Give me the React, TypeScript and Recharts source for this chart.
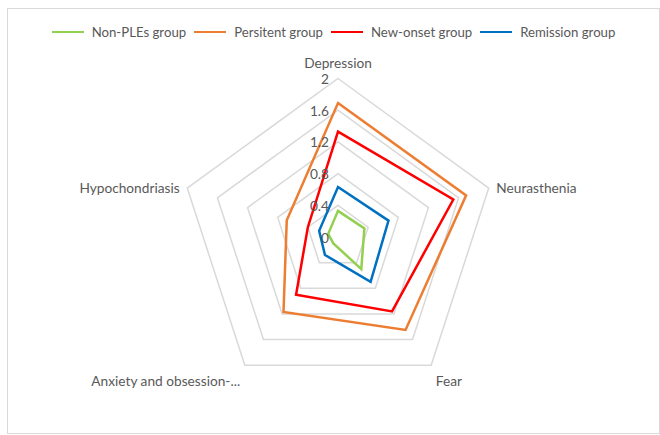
import React from 'react';
import { RadarChart, Radar, PolarGrid, PolarAngleAxis, PolarRadiusAxis, Legend } from 'recharts';

// dimensions of the symptom scale
const categories = ['Depression', 'Neurasthenia', 'Fear', 'Anxiety and obsession-...', 'Hypochondriasis'];

// mean scores per group, same order as categories
const nonPLEs = [0.33, 0.35, 0.5, 0.1, 0.13];
const persistent = [1.69, 1.7, 1.45, 1.17, 0.68];
const newOnset = [1.33, 1.53, 1.16, 0.9, 0.4];
const remission = [0.63, 0.67, 0.7, 0.28, 0.25];

const radiusTicks = [0, 0.4, 0.8, 1.2, 1.6, 2];

const series = [
  { key: 'nonPLEs', name: 'Non-PLEs group', color: '#92D050' },
  { key: 'persistent', name: 'Persitent group', color: '#ED7D31' },
  { key: 'newOnset', name: 'New-onset group', color: '#FF0000' },
  { key: 'remission', name: 'Remission group', color: '#0070C0' },
];

const data = categories.map((c, i) => ({
  category: c,
  nonPLEs: nonPLEs[i],
  persistent: persistent[i],
  newOnset: newOnset[i],
  remission: remission[i],
}));

const FONT = 'Lato, "Noto Sans", sans-serif';
const TEXT = '#595959';

const AngleTick = (props: any) => {
  const { x, y, textAnchor, payload } = props;
  const s = Math.sin((payload.coordinate * Math.PI) / 180);
  const dy = textAnchor === 'middle' ? -8 : s < 0 ? 9 : 2;
  return (
    <text x={x} y={y + dy} textAnchor={textAnchor} dominantBaseline="central" fill={TEXT} fontSize={13.7} fontFamily={FONT}>
      {payload.value}
    </text>
  );
};

const RadiusTick = (props: any) => {
  const { x, y, payload } = props;
  return (
    <text x={x - 9} y={y} textAnchor="end" dominantBaseline="central" fill={TEXT} fontSize={13.7} fontFamily={FONT}>
      {payload.value}
    </text>
  );
};

const LegendContent = () => (
  <div style={{ display: 'flex', justifyContent: 'center', alignItems: 'center', height: 20, fontFamily: FONT, fontSize: 13.2, color: TEXT, paddingLeft: 8 }}>
    {series.map((s) => (
      <div key={s.key} style={{ display: 'flex', alignItems: 'center', marginRight: 8 }}>
        <span style={{ display: 'inline-block', width: 32, height: 2.5, background: s.color, marginRight: 8 }} />
        <span>{s.name}</span>
      </div>
    ))}
  </div>
);

export default function App() {
  return (
    <div
      style={{
        position: 'absolute',
        left: 7,
        top: 8,
        width: 651,
        height: 424,
        border: '1px solid #d9d9d9',
        background: '#fff',
      }}
    >
      <RadarChart
        width={651}
        height={424}
        data={data}
        cx={330}
        cy={228}
        outerRadius={158.5}
        margin={{ top: 0, right: 0, bottom: 0, left: 0 }}
      >
        <Legend verticalAlign="top" align="center" content={<LegendContent />} wrapperStyle={{ top: 13 }} />
        <PolarGrid gridType="polygon" radialLines={false} stroke="#d9d9d9" strokeWidth={1.5} />
        <PolarAngleAxis dataKey="category" axisLine={false} tickLine={false} tick={<AngleTick />} />
        <PolarRadiusAxis
          angle={90}
          domain={[0, 2]}
          ticks={radiusTicks as any}
          tickCount={6}
          axisLine={false}
          tickLine={false}
          tick={<RadiusTick />}
        />
        {series.map((s) => (
          <Radar
            key={s.key}
            dataKey={s.key}
            name={s.name}
            stroke={s.color}
            strokeWidth={2.5}
            fill="none"
            fillOpacity={0}
            dot={false}
            isAnimationActive={false}
          />
        ))}
      </RadarChart>
    </div>
  );
}
